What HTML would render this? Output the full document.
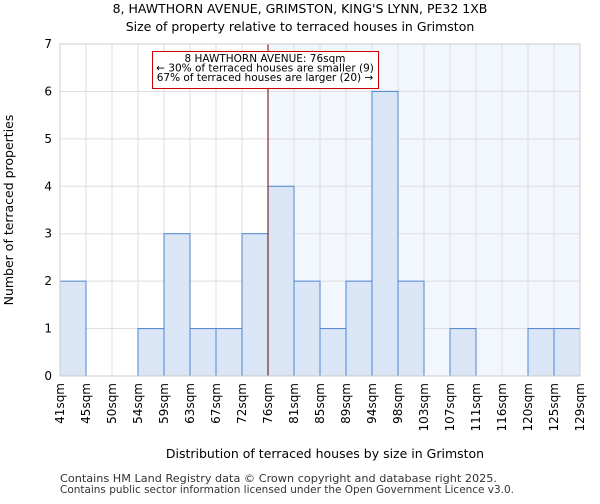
<!DOCTYPE html>
<html><head><meta charset="utf-8"><style>
body{margin:0;background:#fff;font-family:"DejaVu Sans","Liberation Sans",sans-serif;}
svg text{font-family:"DejaVu Sans","Liberation Sans",sans-serif;}
</style></head><body>
<svg id="c" width="600" height="500" xmlns="http://www.w3.org/2000/svg">
<text x="300" y="13" text-anchor="middle" font-size="12.5">8, HAWTHORN AVENUE, GRIMSTON, KING'S LYNN, PE32 1XB</text>
<text x="300" y="31" text-anchor="middle" font-size="12.5">Size of property relative to terraced houses in Grimston</text>
<g id="plot"></g>
<text x="325" y="458" text-anchor="middle" font-size="12.5">Distribution of terraced houses by size in Grimston</text>
<text transform="translate(13,210) rotate(-90)" text-anchor="middle" font-size="12.5">Number of terraced properties</text>
<text x="60" y="482" font-size="10.5" fill="#333" textLength="437" lengthAdjust="spacingAndGlyphs">Contains HM Land Registry data © Crown copyright and database right 2025.</text>
<text x="60" y="493" font-size="10.5" fill="#333" textLength="454" lengthAdjust="spacingAndGlyphs">Contains public sector information licensed under the Open Government Licence v3.0.</text>
</svg>
<script>
const edgeLabels=["41sqm","45sqm","50sqm","54sqm","59sqm","63sqm","67sqm","72sqm","76sqm","81sqm","85sqm","89sqm","94sqm","98sqm","103sqm","107sqm","111sqm","116sqm","120sqm","125sqm","129sqm"];
const counts=[2,0,0,1,3,1,1,3,4,2,1,2,6,2,0,1,0,0,1,1];
const yTicks=[0,1,2,3,4,5,6,7];
const markerIndex=8;
const annotationLines=["8 HAWTHORN AVENUE: 76sqm","← 30% of terraced houses are smaller (9)","67% of terraced houses are larger (20) →"];

const NS="http://www.w3.org/2000/svg";
const g=document.getElementById('plot');
const L=60,R=580,T=44,B=376,yMax=7;
const bw=(R-L)/counts.length;
const xs=i=>L+i*bw;
const ys=v=>B-(v/yMax)*(B-T);
function mk(tag,a){const e=document.createElementNS(NS,tag);for(const k in a)e.setAttribute(k,a[k]);g.appendChild(e);return e;}
let e=mk('rect',{x:xs(markerIndex),y:T,width:R-xs(markerIndex),height:B-T,fill:'#f2f6fd'});


yTicks.forEach(t=>{const l=mk('line',{x1:L,x2:R,y1:ys(t),y2:ys(t),stroke:'#ddd','stroke-width':1});


const tx=mk('text',{x:L-8,y:ys(t)+4,'text-anchor':'end','font-size':12});tx.textContent=t;

});
edgeLabels.forEach((s,i)=>{const l=mk('line',{x1:xs(i),x2:xs(i),y1:T,y2:B,stroke:'#ddd','stroke-width':1});


const tx=mk('text',{transform:`translate(${xs(i)+4},${B+7}) rotate(-90)`,'text-anchor':'end','font-size':12});tx.textContent=s;

});
counts.forEach((v,i)=>{if(v<=0)return;const r=mk('rect',{x:xs(i),y:ys(v),width:bw,height:B-ys(v),fill:'#dae5f5',stroke:'#4f86d0','stroke-width':1});

});
e=mk('line',{x1:xs(markerIndex),x2:xs(markerIndex),y1:T,y2:B,stroke:'#6b0000','stroke-width':1});


e=mk('rect',{x:152.5,y:51.5,width:226,height:37,fill:'#fff',stroke:'#c00','stroke-width':1});


annotationLines.forEach((s,i)=>{const tx=mk('text',{x:265,y:62+i*9.6,'text-anchor':'middle','font-size':10.5});tx.textContent=s;

});
e=mk('rect',{x:L,y:T,width:R-L,height:B-T,fill:'none',stroke:'#ccc','stroke-width':1});


</script>
</body></html>
